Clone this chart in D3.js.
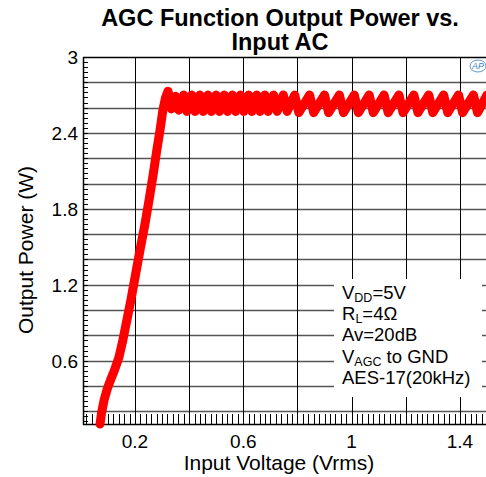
<!DOCTYPE html>
<html>
<head>
<meta charset="utf-8">
<script src="https://cdn.jsdelivr.net/npm/d3@7"></script>
<style>
    body { margin: 0; background: #fff; }
    text { font-family: "Liberation Sans", Arial, sans-serif; }
</style>
</head>
<body>
<svg id="chart" width="486" height="477"></svg>
<script>
// Values
var inputV = [0.071, 0.076, 0.086, 0.098, 0.110, 0.125, 0.141, 0.155, 0.170, 0.185, 0.202, 0.219, 0.236,
              0.252, 0.267, 0.281, 0.293, 0.303, 0.313, 0.322,
              0.335, 0.350, 0.362, 0.380, 0.392, 0.410, 0.422, 0.440, 0.452, 0.470, 0.482,
              0.500, 0.512, 0.530, 0.542, 0.560, 0.572, 0.590, 0.602, 0.620, 0.632, 0.650,
              0.662, 0.680, 0.692, 0.712, 0.725, 0.748, 0.762, 0.790, 0.805, 0.845, 0.860,
              0.900, 0.915, 0.955, 0.970, 1.010, 1.025, 1.065, 1.080, 1.120, 1.135, 1.175,
              1.190, 1.230, 1.245, 1.285, 1.300, 1.340, 1.355, 1.395, 1.410, 1.450, 1.465, 1.500];
var outputP = [0.10, 0.18, 0.29, 0.38, 0.45, 0.53, 0.63, 0.76, 0.92, 1.08, 1.28, 1.48, 1.67,
               1.87, 2.07, 2.27, 2.43, 2.58, 2.68, 2.73,
               2.59, 2.69, 2.58, 2.70, 2.57, 2.70, 2.57, 2.70, 2.57, 2.70, 2.57,
               2.70, 2.57, 2.70, 2.57, 2.70, 2.57, 2.70, 2.57, 2.70, 2.57, 2.70,
               2.57, 2.70, 2.57, 2.70, 2.57, 2.70, 2.57, 2.70, 2.56, 2.70, 2.56,
               2.70, 2.56, 2.70, 2.56, 2.70, 2.56, 2.70, 2.56, 2.70, 2.56, 2.70,
               2.56, 2.70, 2.56, 2.70, 2.56, 2.70, 2.56, 2.70, 2.56, 2.70, 2.56, 2.70];
var xTickLabels = [0.2, 0.6, 1, 1.4];
var yTickLabels = [0.6, 1.2, 1.8, 2.4, 3];
var conditions = [
    {main: "V", sub: "DD", rest: "=5V"},
    {main: "R", sub: "L", rest: "=4\u03A9"},
    {main: "Av=20dB", sub: "", rest: ""},
    {main: "V", sub: "AGC", rest: " to GND"},
    {main: "AES-17(20kHz)", sub: "", rest: ""}
];

var svg = d3.select('#chart'),
    plotLeft = 83, plotTop = 57, plotRight = 487, plotBottom = 424;

var x = d3.scaleLinear().domain([0.008, 1.5]).range([plotLeft, plotRight]);
var y = d3.scaleLinear().domain([0.1, 3]).range([plotBottom, plotTop]);

// Grid lines every 0.2 in both directions
var xGrid = d3.range(0.2, 1.45, 0.2);
var yGrid = d3.range(0.2, 2.95, 0.2);

svg.append('g').selectAll('line')
    .data(yGrid).enter().append('line')
    .attr('x1', plotLeft).attr('x2', plotRight)
    .attr('y1', function(d){ return Math.round(y(d)) + 0.5; })
    .attr('y2', function(d){ return Math.round(y(d)) + 0.5; })
    .attr('stroke', '#555').attr('stroke-width', 1.4);

svg.append('g').selectAll('line')
    .data(xGrid).enter().append('line')
    .attr('y1', plotTop).attr('y2', plotBottom)
    .attr('x1', function(d){ return Math.round(x(d)) + 0.5; })
    .attr('x2', function(d){ return Math.round(x(d)) + 0.5; })
    .attr('stroke', '#000').attr('stroke-width', 1);

// Minor ticks, drawn inward
var xMinor = d3.range(0.02, 1.5, 0.02);
svg.append('g').selectAll('line')
    .data(xMinor).enter().append('line')
    .attr('y1', plotBottom).attr('y2', plotBottom - 10)
    .attr('x1', function(d){ return Math.round(x(d)) + 0.5; })
    .attr('x2', function(d){ return Math.round(x(d)) + 0.5; })
    .attr('stroke', '#000').attr('stroke-width', 1);

var yMinor = d3.range(0.12, 3, 0.04);
svg.append('g').selectAll('line')
    .data(yMinor).enter().append('line')
    .attr('x1', plotLeft).attr('x2', plotLeft + 5)
    .attr('y1', function(d){ return Math.round(y(d)) + 0.5; })
    .attr('y2', function(d){ return Math.round(y(d)) + 0.5; })
    .attr('stroke', '#000').attr('stroke-width', 1);

// Frame: left axis, bottom axis, top border
svg.append('line').attr('x1', plotLeft + 0.5).attr('x2', plotLeft + 0.5)
    .attr('y1', plotTop).attr('y2', plotBottom + 1).attr('stroke', '#000').attr('stroke-width', 1.5);
svg.append('line').attr('x1', plotLeft).attr('x2', plotRight)
    .attr('y1', plotBottom + 0.5).attr('y2', plotBottom + 0.5).attr('stroke', '#000').attr('stroke-width', 1.5);
svg.append('line').attr('x1', plotLeft).attr('x2', plotRight)
    .attr('y1', plotTop + 0.5).attr('y2', plotTop + 0.5).attr('stroke', '#000').attr('stroke-width', 1.5);

// Tick labels
svg.append('g').selectAll('text')
    .data(yTickLabels).enter().append('text')
    .attr('x', plotLeft - 5)
    .attr('y', function(d){ return y(d); })
    .attr('dy', '0.36em')
    .attr('text-anchor', 'end')
    .attr('font-size', 19)
    .text(function(d){ return d; });

svg.append('g').selectAll('text')
    .data(xTickLabels).enter().append('text')
    .attr('x', function(d){ return x(d); })
    .attr('y', 448)
    .attr('text-anchor', 'middle')
    .attr('font-size', 19)
    .text(function(d){ return d; });

// Axis titles
svg.append('text').attr('x', 279).attr('y', 470)
    .attr('text-anchor', 'middle').attr('font-size', 21)
    .text('Input Voltage (Vrms)');
svg.append('text')
    .attr('transform', 'translate(33,250) rotate(-90)')
    .attr('text-anchor', 'middle').attr('font-size', 21)
    .text('Output Power (W)');

// Chart title
svg.append('text').attr('x', 280).attr('y', 26)
    .attr('text-anchor', 'middle').attr('font-size', 23.5).attr('font-weight', 'bold')
    .text('AGC Function Output Power vs.');
svg.append('text').attr('x', 280).attr('y', 50)
    .attr('text-anchor', 'middle').attr('font-size', 23.5).attr('font-weight', 'bold')
    .text('Input AC');

// The measured curve
var points = inputV.map(function(v, i){ return [v, outputP[i]]; });
var line = d3.line()
    .x(function(d){ return x(d[0]); })
    .y(function(d){ return y(d[1]); });

svg.append('path')
    .datum(points)
    .attr('d', line)
    .attr('fill', 'none')
    .attr('stroke', '#ff0000')
    .attr('stroke-width', 9)
    .attr('stroke-linejoin', 'round')
    .attr('stroke-linecap', 'round');

// Test conditions box
svg.append('rect').attr('x', 334).attr('y', 279).attr('width', 148).attr('height', 118)
    .attr('fill', '#fff');

var cond = svg.append('g').selectAll('text')
    .data(conditions).enter().append('text')
    .attr('x', 342)
    .attr('y', function(d, i){ return 299 + i * 21.2; })
    .attr('font-size', 18.5);
cond.append('tspan').text(function(d){ return d.main; });
cond.append('tspan')
    .attr('font-size', 12.5).attr('dy', 3)
    .text(function(d){ return d.sub; });
cond.append('tspan')
    .attr('dy', function(d){ return d.sub ? -3 : 0; })
    .text(function(d){ return d.rest; });

// Small logo at top right
var logo = svg.append('g').attr('transform', 'translate(478,66)');
logo.append('ellipse').attr('rx', 8).attr('ry', 6)
    .attr('fill', 'none').attr('stroke', '#3a7ec6').attr('stroke-width', 0.8);
logo.append('text').attr('text-anchor', 'middle').attr('dy', '0.35em')
    .attr('font-size', 9).attr('font-style', 'italic').attr('fill', '#3a7ec6')
    .text('AP');
</script>
</body>
</html>
